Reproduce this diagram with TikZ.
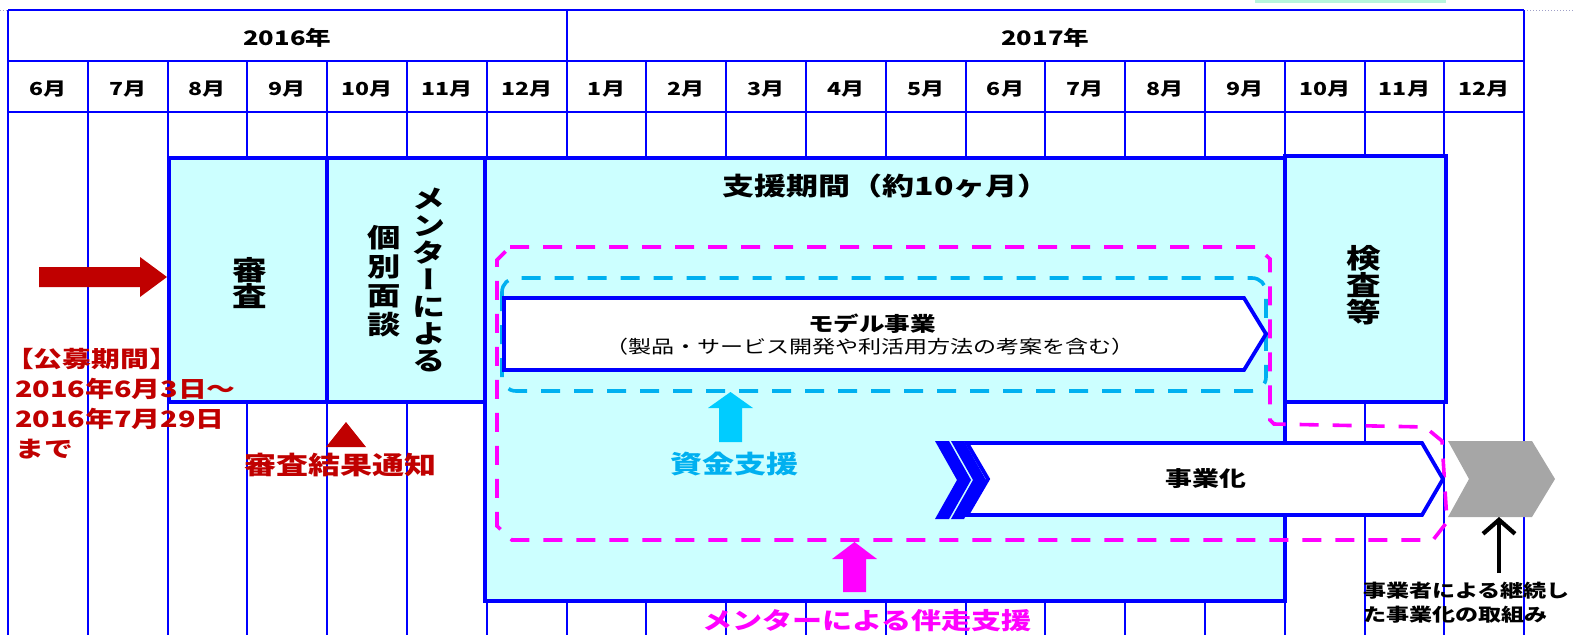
\documentclass[tikz,border=0pt]{standalone}
\usepackage{fontspec}
\setmainfont{Noto Sans CJK JP}[FakeStretch=1.28]
\usepackage{tikz}
\usetikzlibrary{arrows.meta}
\definecolor{gridblue}{HTML}{0000FF}
\definecolor{boxfill}{HTML}{CCFFFF}
\definecolor{darkred}{HTML}{C00000}
\definecolor{pink}{HTML}{FF00FF}
\definecolor{skyline}{HTML}{00B0F0}
\definecolor{skyfill}{HTML}{00CCFF}
\definecolor{grayfill}{HTML}{A6A6A6}
\definecolor{mint}{HTML}{B7F5DC}
\definecolor{framegray}{HTML}{A0A0C8}
\newcommand{\fsz}[2]{\fontsize{#1}{#2}\selectfont}
\tikzset{
  gridline/.style={draw=gridblue, line width=1.9pt},
  phasebox/.style={draw=gridblue, fill=boxfill, line width=3.8pt},
  arrowbox/.style={draw=gridblue, fill=white, line width=3.8pt},
  mentorline/.style={draw=pink, line width=3.6pt, dash pattern=on 19pt off 14pt},
  fundline/.style={draw=skyline, line width=3.6pt, dash pattern=on 19pt off 14pt},
  lab/.style={inner sep=0pt},
}

\begin{document}
\begin{tikzpicture}[x=1pt, y=-1pt]
  \useasboundingbox (0,0) rectangle (1574,635);
  % frame bits at the top
  \fill[mint] (1255,0) rectangle (1446,3);
  \draw[framegray, dotted, line width=1pt] (0,10) -- (1574,10);
  % month grid
  \foreach \i in {0,...,19}
    \draw[gridline] (8+79.8*\i,61) -- (8+79.8*\i,635);
  \draw[gridline] (8,10) -- (8,61) (566.6,10) -- (566.6,61) (1524,10) -- (1524,61);
  \foreach \y in {10,61,112}
    \draw[gridline] (8,\y) -- (1524,\y);
  \node[lab, font=\fsz{20}{20}\bfseries] (y2016) at (287.3,38) {2016年};
  \node[lab, font=\fsz{20}{20}\bfseries] (y2017) at (1045.3,38) {2017年};
  \foreach \m [count=\i from 0] in {6,7,8,9,10,11,12,1,2,3,4,5,6,7,8,9,10,11,12}
    \node[lab, font=\fsz{18}{18}\bfseries] (m\i) at (47.9+79.8*\i,89) {\m{}月};

  % phases
  \draw[phasebox] (169,158) rectangle (327,402);
  \draw[phasebox] (327,158) rectangle (485,402);
  \draw[phasebox] (485,158) rectangle (1285,601);
  \draw[phasebox] (1285,156) rectangle (1446,402);
  \node[lab, align=center, font=\fsz{27}{26}\bfseries] (shinsa) at (250,283) {審\\査};
  \node[lab, align=center, font=\fsz{26}{29}\bfseries] (mendan) at (384,281) {個\\別\\面\\談};
  \node[lab, align=center, font=\fsz{26}{27}\bfseries\addfontfeatures{RawFeature=+vert}]
    (mentor) at (429,280) {メ\\ン\\タ\\ー\\に\\よ\\る};
  \node[lab, align=center, font=\fsz{27}{27}\bfseries] (kensa) at (1364,285) {検\\査\\等};
  \node[lab, font=\fsz{25}{25}\bfseries] (shienttl) at (886,186) {支援期間（約10ヶ月）};

  % support areas
  \draw[mentorline] (510,247) -- (1257,247) -- (1270,259) -- (1270,420) -- (1274,424)
    -- (1425,427) -- (1442,441) -- (1447,522) -- (1433,540) -- (512,540) -- (497,526)
    -- (497,260) -- cycle;
  \draw[fundline, rounded corners=14pt] (502,278) rectangle (1266,391);

  % model project
  \draw[arrowbox] (504,298) -- (1244,298) -- (1266,334) -- (1244,370) -- (504,370) -- cycle;
  \node[lab, font=\fsz{20}{20}\bfseries] (model) at (872,324) {モデル事業};
  \node[lab, font=\fsz{18}{18}] (modelsub) at (870,347) {（製品・サービス開発や利活用方法の考案を含む）};

  % commercialisation
  \fill[gridblue] (935,441) -- (949,441) -- (971,480) -- (949,519) -- (935,519) -- (957,480) -- cycle;
  \fill[gridblue] (951,441) -- (964,441) -- (986,480) -- (964,519) -- (951,519) -- (973,480) -- cycle;
  \draw[arrowbox] (967,443) -- (1422,443) -- (1443,479) -- (1422,515) -- (967,515) -- (988,479) -- cycle;
  \node[lab, font=\fsz{21}{21}\bfseries] (jigyoka) at (1206,479) {事業化};
  \fill[grayfill] (1448,441) -- (1532,441) -- (1555,479) -- (1532,517) -- (1448,517) -- (1469,479) -- cycle;

  % funding and mentoring arrows
  \fill[skyfill] (719,442) -- (719,408) -- (708,408) -- (730.5,392) -- (753,408) -- (742,408) -- (742,442) -- cycle;
  \node[lab, text=skyline, font=\fsz{25}{25}\bfseries] (shikin) at (734,464) {資金支援};
  \fill[pink] (843,592) -- (843,559) -- (832,559) -- (854.5,542) -- (877,559) -- (866,559) -- (866,592) -- cycle;
  \node[lab, text=pink, font=\fsz{23.5}{23.5}\bfseries] (bansou) at (867,621) {メンターによる伴走支援};

  % application period
  \fill[darkred] (39,267) -- (140,267) -- (140,257) -- (167,277) -- (140,297) -- (140,287) -- (39,287) -- cycle;
  \node[lab, anchor=west, align=left, text=darkred, font=\fsz{22.5}{30}\bfseries] (koubo) at (15,404)
    {\kern-0.45em【公募期間】\\2016年6月3日～\\2016年7月29日\\まで};
  \fill[darkred] (326,447) -- (346,422) -- (366,447) -- cycle;
  \node[lab, text=darkred, font=\fsz{25}{25}\bfseries] (kekka) at (340,465) {審査結果通知};

  % follow-up by the business
  \node[lab, anchor=west, align=left, font=\fsz{18}{24}\bfseries] (keizoku) at (1363,603)
    {事業者による継続し\\た事業化の取組み};
  \coordinate (contfoot) at (1499,573);
  \coordinate (conthead) at (1499,517);
  \draw[line width=4.2pt, -{Straight Barb[length=14pt, width=32pt, line width=4.2pt]}] (contfoot) -- (conthead);
\end{tikzpicture}
\end{document}
